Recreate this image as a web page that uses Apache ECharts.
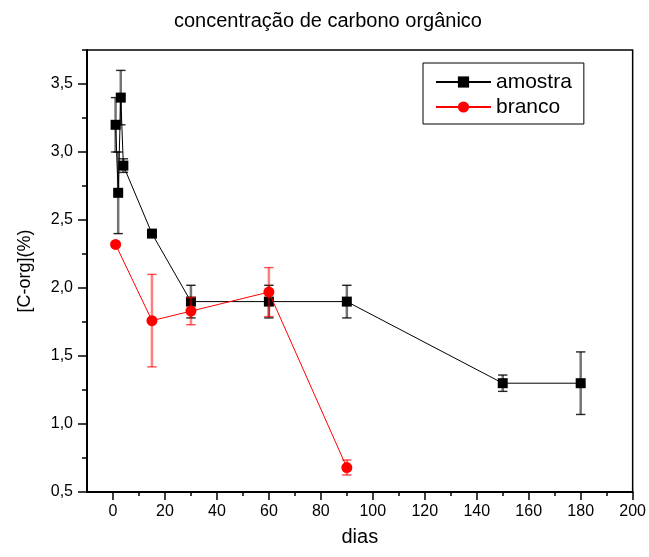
<!DOCTYPE html>
<html>
<head>
<meta charset="utf-8">
<script src="https://cdn.jsdelivr.net/npm/echarts@6/dist/echarts.min.js"></script>
<style>
  html, body { margin: 0; padding: 0; background: #fff; }
  #chart { width: 649px; height: 557px; }
</style>
</head>
<body>
<div id="chart"></div>
<script>
// Organic carbon content over time, sample vs. blank, with standard deviations
const diasAmostra = [1, 2, 3, 4, 15, 30, 60, 90, 150, 180];
const amostra     = [3.2, 2.7, 3.4, 2.9, 2.4, 1.9, 1.9, 1.9, 1.3, 1.3];
const erroAmostra = [0.2, 0.3, 0.2, 0.05, 0, 0.12, 0.12, 0.12, 0.06, 0.23];

const diasBranco  = [1, 15, 30, 60, 90];
const branco      = [2.32, 1.76, 1.83, 1.97, 0.68];
const erroBranco  = [0, 0.34, 0.1, 0.18, 0.055];

const xTicks = [0, 20, 40, 60, 80, 100, 120, 140, 160, 180, 200];
const yTicks = [0.5, 1.0, 1.5, 2.0, 2.5, 3.0, 3.5];

const FONT = "'Liberation Sans', Arial, sans-serif";

// minor ticks halfway between the labelled ones (plus the one at the top edge)
const xMinor = xTicks.slice(0, -1).map((v, i) => (v + xTicks[i + 1]) / 2);
const yMinor = yTicks.slice(0, -1).map((v, i) => (v + yTicks[i + 1]) / 2).concat([3.75]);

const pairs = (xs, ys) => xs.map((x, i) => [x, ys[i]]);
const bars = (xs, ys, es) => xs.map((x, i) => [x, ys[i] - es[i], ys[i] + es[i]]);

function errorBars(stemColor, capColor) {
  return function (params, api) {
    const x = api.value(0), lo = api.value(1), hi = api.value(2);
    if (hi - lo <= 0) return null;
    const top = api.coord([x, hi]);
    const bot = api.coord([x, lo]);
    const w = 4.7;
    return {
      type: 'group',
      children: [
        { type: 'line', shape: { x1: top[0], y1: top[1], x2: bot[0], y2: bot[1] },
          style: { stroke: stemColor, lineWidth: 2.5 } },
        { type: 'line', shape: { x1: top[0] - w, y1: top[1], x2: top[0] + w, y2: top[1] },
          style: { stroke: capColor, lineWidth: 1.4 } },
        { type: 'line', shape: { x1: bot[0] - w, y1: bot[1], x2: bot[0] + w, y2: bot[1] },
          style: { stroke: capColor, lineWidth: 1.4 } }
      ]
    };
  };
}

const chart = echarts.init(document.getElementById('chart'), null, { renderer: 'canvas' });

const axisLineStyle = { color: '#000', width: 2 };

chart.setOption({
  animation: false,
  backgroundColor: '#fff',
  textStyle: { fontFamily: FONT },
  title: {
    text: 'concentração de carbono orgânico',
    left: 174, top: 11, padding: 0,
    textStyle: { fontFamily: FONT, fontSize: 20, fontWeight: 'normal', color: '#000' }
  },
  legend: {
    data: ['amostra', 'branco'],
    orient: 'vertical',
    left: 423, top: 63,
    padding: [8, 12, 6, 12],
    itemGap: 3,
    itemWidth: 55,
    itemHeight: 14,
    borderColor: '#000',
    borderWidth: 1,
    backgroundColor: '#fff',
    textStyle: { fontFamily: FONT, fontSize: 21, color: '#000', lineHeight: 22 }
  },
  grid: {
    left: 87, right: 16, top: 50, bottom: 65,
    show: true, borderColor: '#000', borderWidth: 1.5, backgroundColor: 'transparent'
  },
  xAxis: [
    {
      type: 'value', min: -10, max: 200, position: 'bottom',
      name: 'dias', nameLocation: 'middle', nameGap: 35,
      nameTextStyle: { fontFamily: FONT, fontSize: 20, color: '#000' },
      axisLine: { show: true, onZero: false, lineStyle: axisLineStyle },
      axisTick: { show: true, inside: false, length: 8, customValues: xTicks,
                  lineStyle: { color: '#000', width: 1.5 } },
      axisLabel: { customValues: xTicks, margin: 12, fontFamily: FONT, fontSize: 16, color: '#000' },
      splitLine: { show: false }
    },
    {
      type: 'value', min: -10, max: 200, position: 'bottom', offset: 0,
      axisLine: { show: false, onZero: false },
      axisTick: { show: true, inside: false, length: 4, customValues: xMinor,
                  lineStyle: { color: '#000', width: 1.5 } },
      axisLabel: { show: false },
      splitLine: { show: false }
    }
  ],
  yAxis: [
    {
      type: 'value', min: 0.5, max: 3.75, position: 'left',
      name: '[C-org](%)', nameLocation: 'middle', nameGap: 53, nameRotate: 90,
      nameTextStyle: { fontFamily: FONT, fontSize: 18, color: '#000' },
      axisLine: { show: true, onZero: false, lineStyle: axisLineStyle },
      axisTick: { show: true, inside: false, length: 9, customValues: yTicks,
                  lineStyle: { color: '#000', width: 1.5 } },
      axisLabel: { customValues: yTicks, margin: 14, fontFamily: FONT, fontSize: 16, color: '#000',
                   formatter: v => v.toFixed(1).replace('.', ',') },
      splitLine: { show: false }
    },
    {
      type: 'value', min: 0.5, max: 3.75, position: 'left', offset: 0,
      axisLine: { show: false, onZero: false },
      axisTick: { show: true, inside: false, length: 5, customValues: yMinor,
                  lineStyle: { color: '#000', width: 1.5 } },
      axisLabel: { show: false },
      splitLine: { show: false }
    }
  ],
  series: [
    {
      name: 'amostra', type: 'line', xAxisIndex: 0, yAxisIndex: 0,
      data: pairs(diasAmostra, amostra),
      symbol: 'rect', symbolSize: 10,
      itemStyle: { color: '#000' },
      lineStyle: { color: '#000', width: 1 },
      z: 2
    },
    {
      name: 'erro amostra', type: 'custom', xAxisIndex: 0, yAxisIndex: 0,
      data: bars(diasAmostra, amostra, erroAmostra),
      encode: { x: 0, y: [1, 2] },
      renderItem: errorBars('rgba(0,0,0,0.55)', 'rgba(0,0,0,0.85)'),
      z: 3
    },
    {
      name: 'branco', type: 'line', xAxisIndex: 0, yAxisIndex: 0,
      data: pairs(diasBranco, branco),
      symbol: 'circle', symbolSize: 11,
      itemStyle: { color: '#ff0000' },
      lineStyle: { color: '#ff0000', width: 1 },
      z: 4
    },
    {
      name: 'erro branco', type: 'custom', xAxisIndex: 0, yAxisIndex: 0,
      data: bars(diasBranco, branco, erroBranco),
      encode: { x: 0, y: [1, 2] },
      renderItem: errorBars('rgba(255,0,0,0.5)', 'rgba(255,0,0,0.7)'),
      z: 5
    }
  ]
});
</script>
</body>
</html>
